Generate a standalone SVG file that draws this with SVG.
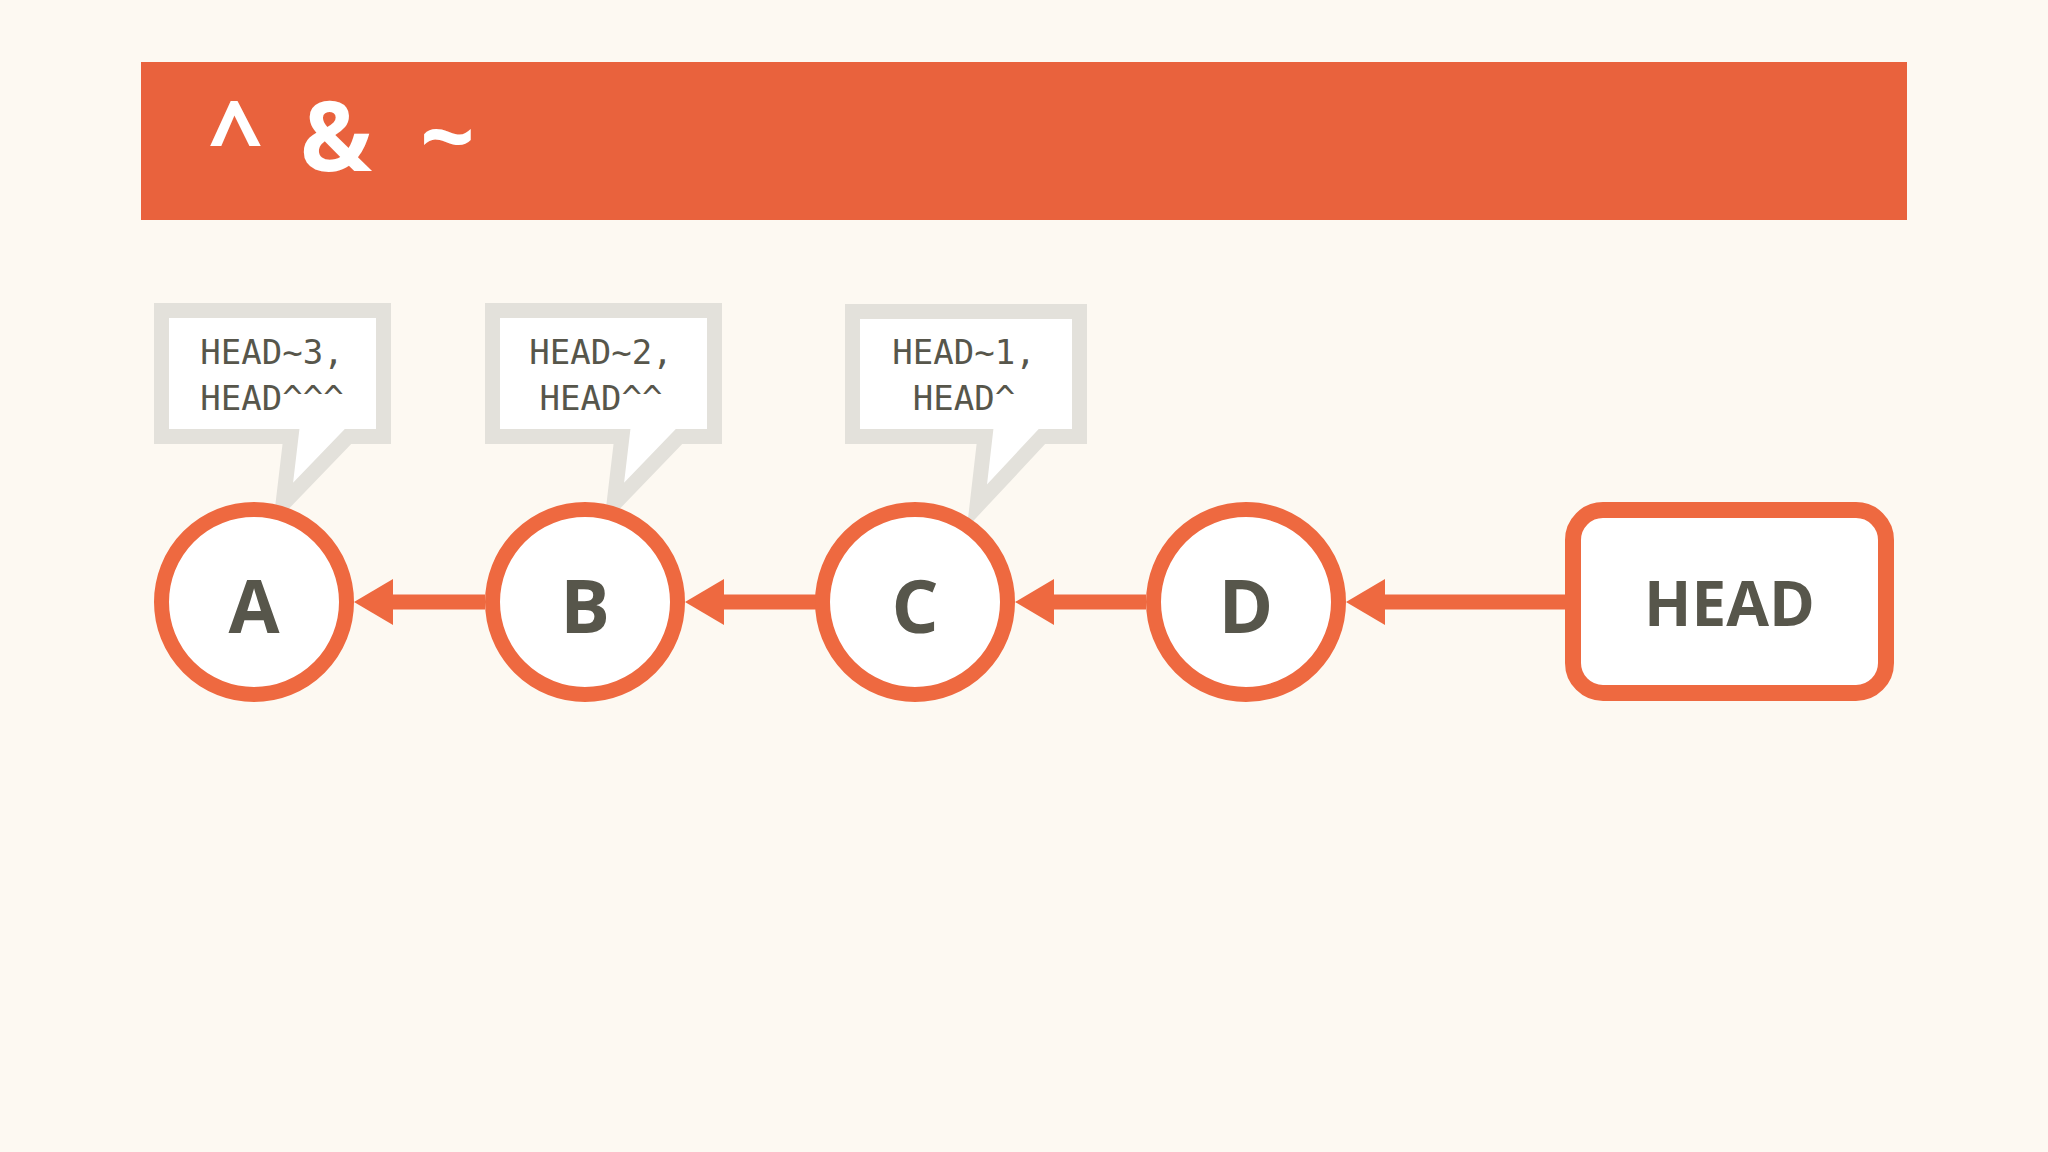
<svg xmlns="http://www.w3.org/2000/svg" width="2048" height="1152" viewBox="0 0 2048 1152">
  <style>
    .bg { fill: #FDF9F2; }
    .banner { fill: #E9623D; }
    .title { fill: #FFFFFF; font-family: "Noto Sans", "Open Sans", sans-serif; font-size: 96px; font-weight: 700; }
    .bubble { fill: #FFFFFF; stroke: #E3E1DB; stroke-width: 15; stroke-linejoin: miter; stroke-miterlimit: 6; }
    .btext { fill: #57564B; font-family: "DejaVu Sans Mono", "Liberation Mono", monospace; font-size: 34px; text-anchor: middle; }
    .commit { fill: #FFFFFF; stroke: #EE6940; stroke-width: 15; }
    .ref { fill: #FFFFFF; stroke: #EE6940; stroke-width: 16; }
    .label { fill: #57564B; font-family: "Open Sans", "Noto Sans", sans-serif; font-weight: 700; text-anchor: middle; }
    .edge { stroke: #EE6940; stroke-width: 15; fill: none; marker-end: url(#arrow); }
  </style>
  <defs>
    <marker id="arrow" markerUnits="userSpaceOnUse" markerWidth="40" markerHeight="46" refX="2" refY="23" orient="auto" overflow="visible">
      <path d="M0,0 L39,23 L0,46 Z" fill="#EE6940"/>
    </marker>
  </defs>

  <rect class="bg" x="0" y="0" width="2048" height="1152"/>

  <g id="header">
    <rect class="banner" x="141" y="62" width="1766" height="158"/>
    <text class="title" y="171"><tspan x="208">^</tspan><tspan x="300">&amp;</tspan><tspan x="420">~</tspan></text>
  </g>

  <g id="callout-A">
    <path class="bubble" d="M161.5,310.5 H383.5 V436.5 H348 L283,504 L291,436.5 H161.5 Z"/>
    <text class="btext" x="272" y="364">HEAD~3,</text>
    <text class="btext" x="272" y="410">HEAD^^^</text>
  </g>
  <g id="callout-B">
    <path class="bubble" d="M492.5,310.5 H714.5 V436.5 H679 L614,504 L622,436.5 H492.5 Z"/>
    <text class="btext" x="601" y="364">HEAD~2,</text>
    <text class="btext" x="601" y="410">HEAD^^</text>
  </g>
  <g id="callout-C">
    <path class="bubble" d="M852.5,311.5 H1079.5 V436.5 H1042 L977,506 L985,436.5 H852.5 Z"/>
    <text class="btext" x="964" y="364">HEAD~1,</text>
    <text class="btext" x="964" y="410">HEAD^</text>
  </g>

  <g id="connectors">
    <line class="edge" x1="485" y1="602" x2="391" y2="602"/>
    <line class="edge" x1="816" y1="602" x2="722" y2="602"/>
    <line class="edge" x1="1146" y1="602" x2="1052" y2="602"/>
    <line class="edge" x1="1566" y1="602" x2="1383" y2="602"/>
  </g>

  <g id="node-A">
    <circle class="commit" cx="254" cy="602" r="92.5"/>
    <text class="label" x="254" y="633" font-size="74">A</text>
  </g>
  <g id="node-B">
    <circle class="commit" cx="585" cy="602" r="92.5"/>
    <text class="label" x="585" y="633" font-size="74">B</text>
  </g>
  <g id="node-C">
    <circle class="commit" cx="915" cy="602" r="92.5"/>
    <text class="label" x="915" y="633" font-size="74">C</text>
  </g>
  <g id="node-D">
    <circle class="commit" cx="1246" cy="602" r="92.5"/>
    <text class="label" x="1246" y="633" font-size="74">D</text>
  </g>
  <g id="node-HEAD">
    <rect class="ref" x="1573" y="510" width="313" height="183" rx="30" ry="30"/>
    <text class="label" x="1729.5" y="626" font-size="62">HEAD</text>
  </g>
</svg>
